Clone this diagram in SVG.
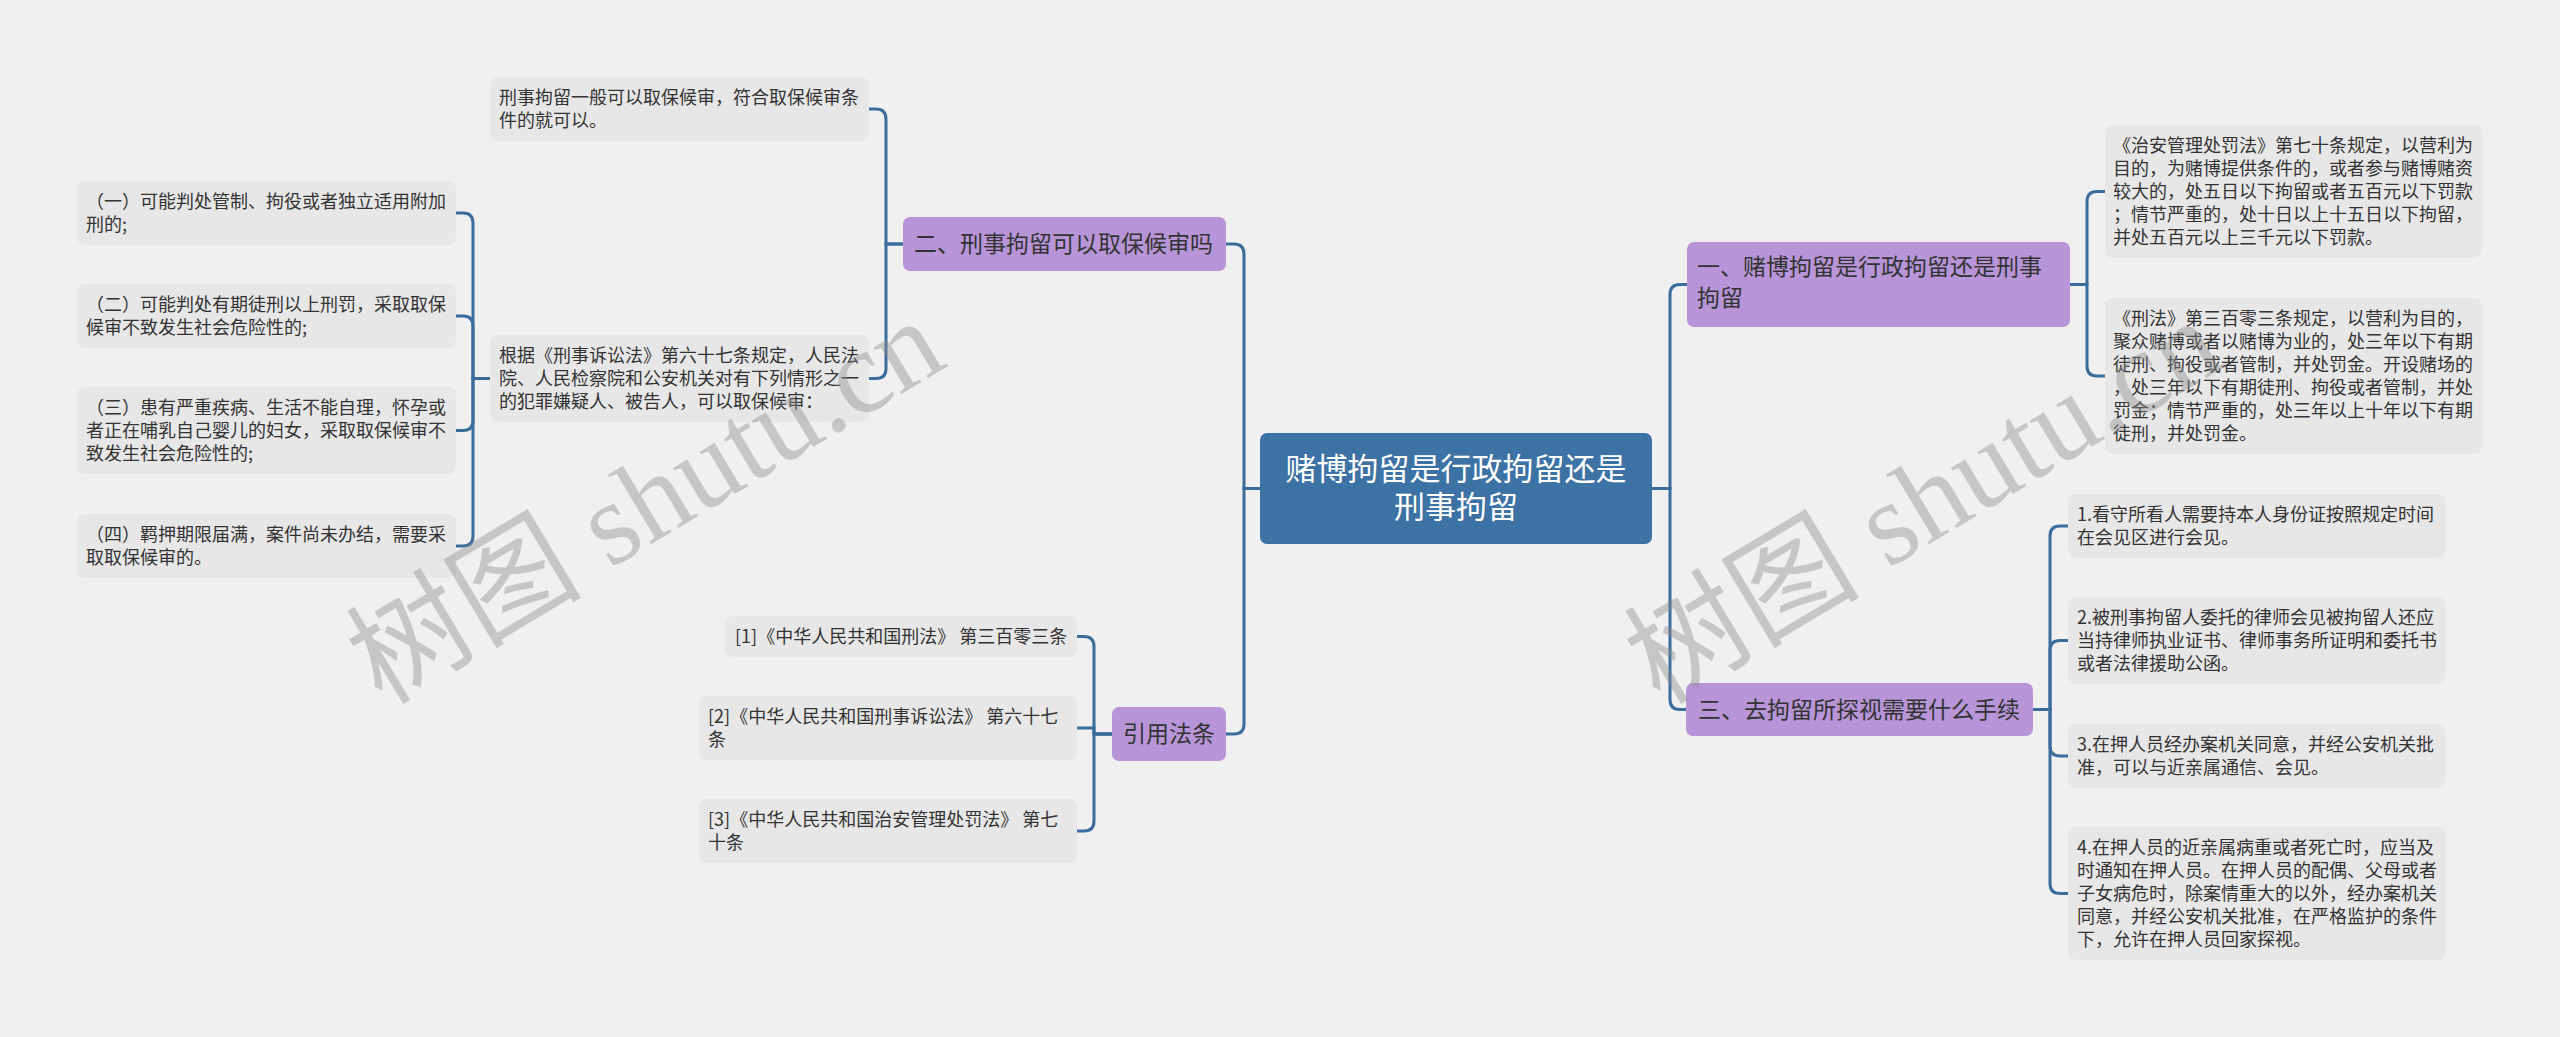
<svg xmlns="http://www.w3.org/2000/svg" width="2560" height="1037" viewBox="0 0 2560 1037">
<style>
.bg{fill:#f0f0f0}
.leaf{fill:#e7e7e7}
.br{fill:#b895d9}
.root{fill:#3d72a4}
.t{font-family:"Noto Sans CJK SC","Noto Sans",sans-serif;font-size:18px;fill:#333}
.bt{font-family:"Noto Sans CJK SC","Noto Sans",sans-serif;font-size:23px;fill:#333}
.rt{font-family:"Noto Sans CJK SC","Noto Sans",sans-serif;font-size:31px;fill:#fff;text-anchor:middle}
.c{fill:none;stroke:#3a6d9c;stroke-width:3}
.wm{font-family:"Liberation Serif","Noto Sans CJK SC",serif;font-size:118px;fill:#8c8c8c;fill-opacity:0.42}
</style>
<rect class="bg" x="0" y="0" width="2560" height="1037"/>
<g id="connectors">
<path class="c" d="M1260 488.5 H1244 V254 Q1244 244 1234 244 H1226"/>
<path class="c" d="M1260 488.5 H1244 V724 Q1244 734 1234 734 H1226"/>
<path class="c" d="M903 244 H886 V119 Q886 109 876 109 H869"/>
<path class="c" d="M903 244 H886 V368.5 Q886 378.5 876 378.5 H869"/>
<path class="c" d="M490 378.5 H473 V223 Q473 213 463 213 H456"/>
<path class="c" d="M490 378.5 H473 V326 Q473 316 463 316 H456"/>
<path class="c" d="M490 378.5 H473 V420.5 Q473 430.5 463 430.5 H456"/>
<path class="c" d="M490 378.5 H473 V536 Q473 546 463 546 H456"/>
<path class="c" d="M1112 734 H1094 V646.5 Q1094 636.5 1084 636.5 H1077"/>
<path class="c" d="M1112 734 H1094 V728 H1077"/>
<path class="c" d="M1112 734 H1094 V821 Q1094 831 1084 831 H1077"/>
<path class="c" d="M1652 488.5 H1670 V294.5 Q1670 284.5 1680 284.5 H1687"/>
<path class="c" d="M1652 488.5 H1670 V699.5 Q1670 709.5 1680 709.5 H1687"/>
<path class="c" d="M2070 284.5 H2087 V201.5 Q2087 191.5 2097 191.5 H2105"/>
<path class="c" d="M2070 284.5 H2087 V366 Q2087 376 2097 376 H2105"/>
<path class="c" d="M2033 709.5 H2050 V536 Q2050 526 2060 526 H2068"/>
<path class="c" d="M2033 709.5 H2050 V650.5 Q2050 640.5 2060 640.5 H2068"/>
<path class="c" d="M2033 709.5 H2050 V746 Q2050 756 2060 756 H2068"/>
<path class="c" d="M2033 709.5 H2050 V883.5 Q2050 893.5 2060 893.5 H2068"/>
</g>
<g id="root">
<rect class="root" x="1260" y="433" width="392" height="111" rx="7"/>
<text class="rt" x="1456" y="480">赌博拘留是行政拘留还是</text>
<text class="rt" x="1456" y="518">刑事拘留</text>
</g>
<g id="b2">
<rect class="br" x="903" y="217" width="323" height="54" rx="7"/>
<text class="bt" x="914" y="252">二、刑事拘留可以取保候审吗</text>
</g>
<g id="b2-l1">
<rect class="leaf" x="490" y="77" width="379" height="64" rx="8"/>
<text class="t" x="499" y="104">刑事拘留一般可以取保候审，符合取保候审条</text>
<text class="t" x="499" y="127">件的就可以。</text>
</g>
<g id="b2-l2">
<rect class="leaf" x="490" y="335" width="379" height="87" rx="8"/>
<text class="t" x="499" y="362">根据《刑事诉讼法》第六十七条规定，人民法</text>
<text class="t" x="499" y="385">院、人民检察院和公安机关对有下列情形之一</text>
<text class="t" x="499" y="408">的犯罪嫌疑人、被告人，可以取保候审：</text>
</g>
<g id="c1">
<rect class="leaf" x="77" y="181" width="379" height="64" rx="8"/>
<text class="t" x="86" y="208">（一）可能判处管制、拘役或者独立适用附加</text>
<text class="t" x="86" y="231">刑的;</text>
</g>
<g id="c2">
<rect class="leaf" x="77" y="284" width="379" height="64" rx="8"/>
<text class="t" x="86" y="311">（二）可能判处有期徒刑以上刑罚，采取取保</text>
<text class="t" x="86" y="334">候审不致发生社会危险性的;</text>
</g>
<g id="c3">
<rect class="leaf" x="77" y="387" width="379" height="87" rx="8"/>
<text class="t" x="86" y="414">（三）患有严重疾病、生活不能自理，怀孕或</text>
<text class="t" x="86" y="437">者正在哺乳自己婴儿的妇女，采取取保候审不</text>
<text class="t" x="86" y="460">致发生社会危险性的;</text>
</g>
<g id="c4">
<rect class="leaf" x="77" y="514" width="379" height="64" rx="8"/>
<text class="t" x="86" y="541">（四）羁押期限届满，案件尚未办结，需要采</text>
<text class="t" x="86" y="564">取取保候审的。</text>
</g>
<g id="b4">
<rect class="br" x="1112" y="707" width="114" height="54" rx="7"/>
<text class="bt" x="1169" y="742" text-anchor="middle">引用法条</text>
</g>
<g id="r1">
<rect class="leaf" x="725" y="616" width="352" height="41" rx="8"/>
<text class="t" x="735" y="643">[1]《中华人民共和国刑法》 第三百零三条</text>
</g>
<g id="r2">
<rect class="leaf" x="699" y="696" width="378" height="64" rx="8"/>
<text class="t" x="708" y="723">[2]《中华人民共和国刑事诉讼法》 第六十七</text>
<text class="t" x="708" y="746">条</text>
</g>
<g id="r3">
<rect class="leaf" x="699" y="799" width="378" height="64" rx="8"/>
<text class="t" x="708" y="826">[3]《中华人民共和国治安管理处罚法》 第七</text>
<text class="t" x="708" y="849">十条</text>
</g>
<g id="b1">
<rect class="br" x="1687" y="242" width="383" height="85" rx="7"/>
<text class="bt" x="1697" y="275">一、赌博拘留是行政拘留还是刑事</text>
<text class="bt" x="1697" y="306">拘留</text>
</g>
<g id="b1-a">
<rect class="leaf" x="2105" y="125" width="377" height="133" rx="8"/>
<text class="t" x="2113" y="152">《治安管理处罚法》第七十条规定，以营利为</text>
<text class="t" x="2113" y="175">目的，为赌博提供条件的，或者参与赌博赌资</text>
<text class="t" x="2113" y="198">较大的，处五日以下拘留或者五百元以下罚款</text>
<text class="t" x="2113" y="221">；情节严重的，处十日以上十五日以下拘留，</text>
<text class="t" x="2113" y="244">并处五百元以上三千元以下罚款。</text>
</g>
<g id="b1-b">
<rect class="leaf" x="2105" y="298" width="377" height="156" rx="8"/>
<text class="t" x="2113" y="325">《刑法》第三百零三条规定，以营利为目的，</text>
<text class="t" x="2113" y="348">聚众赌博或者以赌博为业的，处三年以下有期</text>
<text class="t" x="2113" y="371">徒刑、拘役或者管制，并处罚金。开设赌场的</text>
<text class="t" x="2113" y="394">，处三年以下有期徒刑、拘役或者管制，并处</text>
<text class="t" x="2113" y="417">罚金；情节严重的，处三年以上十年以下有期</text>
<text class="t" x="2113" y="440">徒刑，并处罚金。</text>
</g>
<g id="b3">
<rect class="br" x="1686" y="683" width="347" height="53" rx="7"/>
<text class="bt" x="1698" y="718">三、去拘留所探视需要什么手续</text>
</g>
<g id="b3-1">
<rect class="leaf" x="2068" y="494" width="378" height="64" rx="8"/>
<text class="t" x="2077" y="521">1.看守所看人需要持本人身份证按照规定时间</text>
<text class="t" x="2077" y="544">在会见区进行会见。</text>
</g>
<g id="b3-2">
<rect class="leaf" x="2068" y="597" width="378" height="87" rx="8"/>
<text class="t" x="2077" y="624">2.被刑事拘留人委托的律师会见被拘留人还应</text>
<text class="t" x="2077" y="647">当持律师执业证书、律师事务所证明和委托书</text>
<text class="t" x="2077" y="670">或者法律援助公函。</text>
</g>
<g id="b3-3">
<rect class="leaf" x="2068" y="724" width="378" height="64" rx="8"/>
<text class="t" x="2077" y="751">3.在押人员经办案机关同意，并经公安机关批</text>
<text class="t" x="2077" y="774">准，可以与近亲属通信、会见。</text>
</g>
<g id="b3-4">
<rect class="leaf" x="2068" y="827" width="378" height="133" rx="8"/>
<text class="t" x="2077" y="854">4.在押人员的近亲属病重或者死亡时，应当及</text>
<text class="t" x="2077" y="877">时通知在押人员。在押人员的配偶、父母或者</text>
<text class="t" x="2077" y="900">子女病危时，除案情重大的以外，经办案机关</text>
<text class="t" x="2077" y="923">同意，并经公安机关批准，在严格监护的条件</text>
<text class="t" x="2077" y="946">下，允许在押人员回家探视。</text>
</g>
<g id="watermarks">
<text class="wm" transform="translate(382 706) rotate(-31)">树图 shutu.cn</text>
<text class="wm" transform="translate(1660 706) rotate(-31)">树图 shutu.cn</text>
</g>
</svg>
